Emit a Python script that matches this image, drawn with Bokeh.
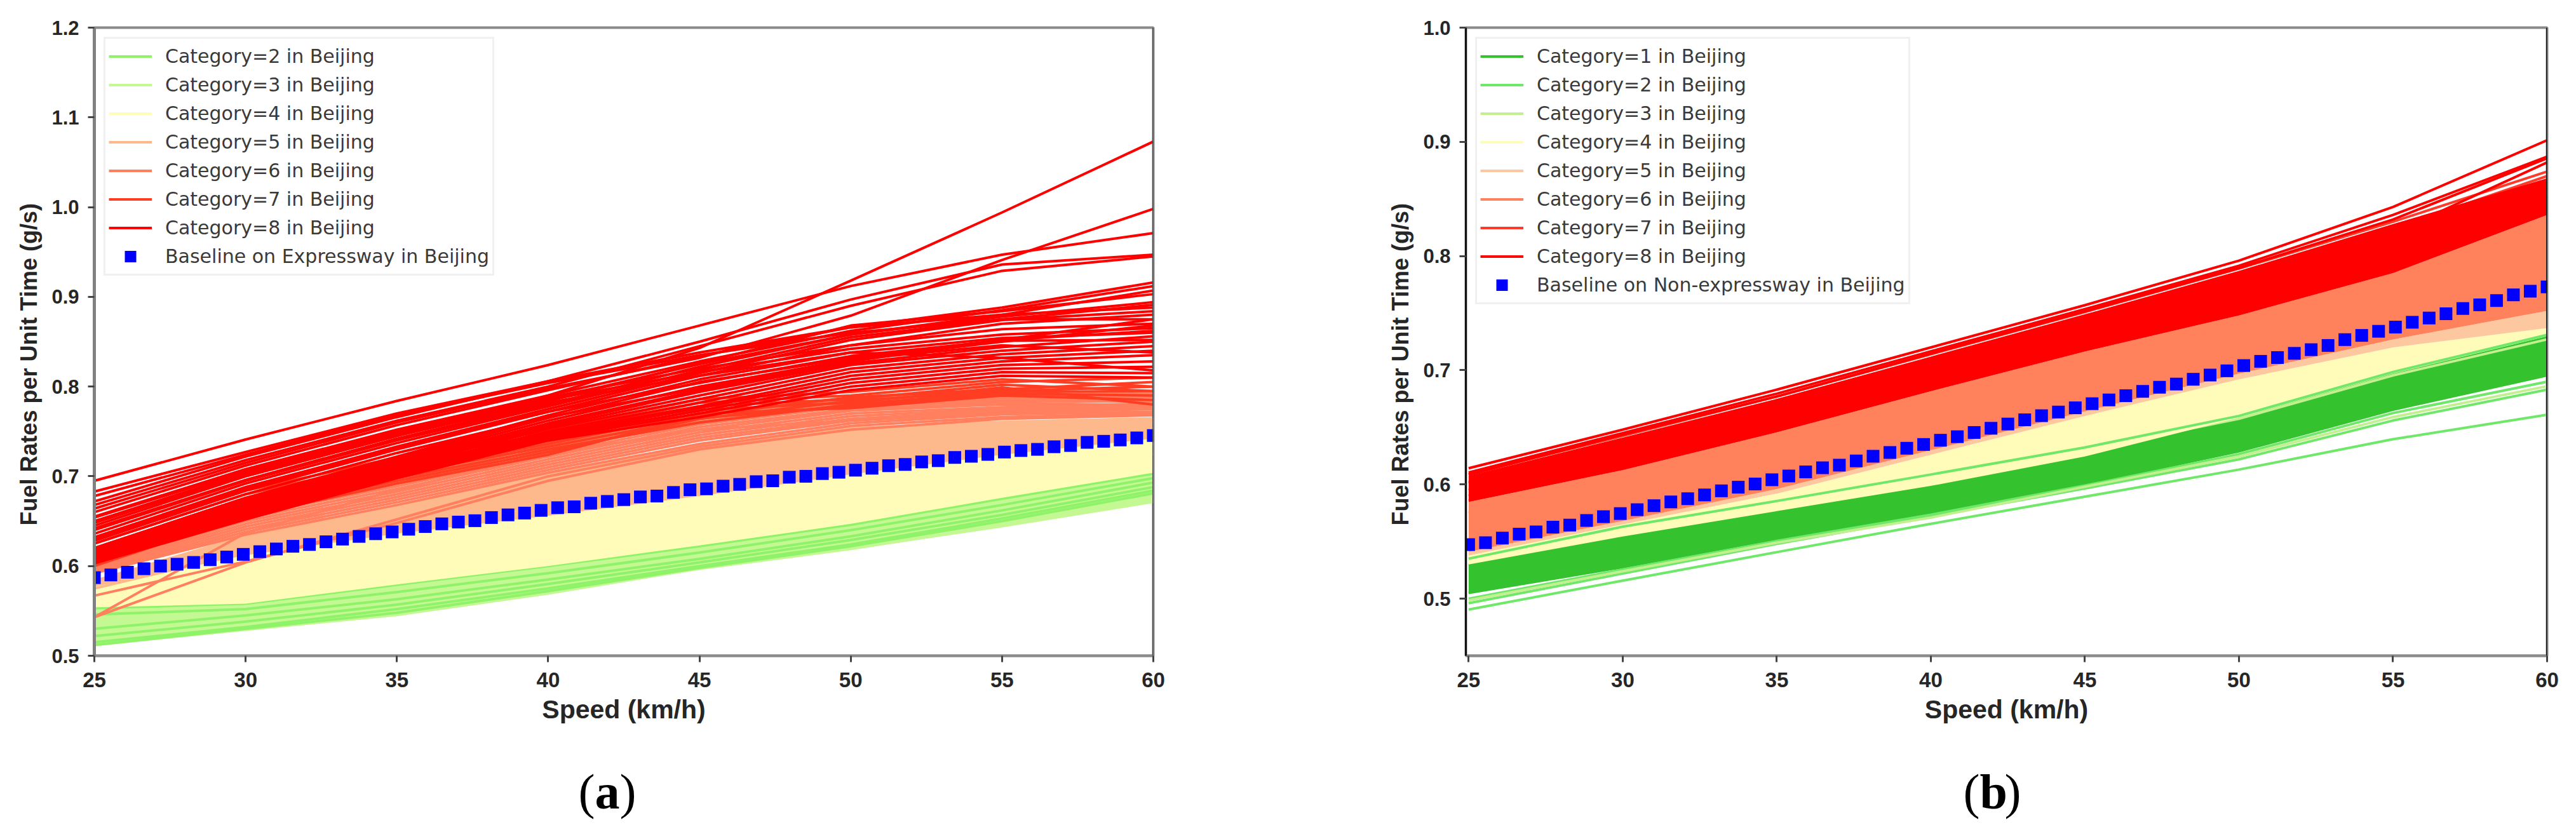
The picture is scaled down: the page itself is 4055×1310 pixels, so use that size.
from bokeh.plotting import figure
from bokeh.layouts import row, column
from bokeh.models import Legend, LegendItem, Span, Label, FixedTicker, NumeralTickFormatter, Title
from bokeh.embed import file_html
from bokeh.resources import INLINE
import numpy as np

speed_knots = [25, 30, 35, 40, 45, 50, 55, 60]
x_ticks = [25, 30, 35, 40, 45, 50, 55, 60]
y_ticks_a = [0.5, 0.6, 0.7, 0.8, 0.9, 1.0, 1.1, 1.2]
y_ticks_b = [0.5, 0.6, 0.7, 0.8, 0.9, 1.0]

baseline_a = [.587,.590,.593,.597,.600,.602,.604,.607,.610,.613,.616,.619,.622,.624,.627,.630,.633,.636,.638,.641,.644,.647,.649,
              .6505,.654,.657,.659,.662,.665,.666,.670,.672,.674,.677,.678,.682,.685,.686,.689,.691,.694,.695,.699,.700,.703,.7045,
              .7068,.709,.7118,.7132,.716,.7174,.721,.7223,.7244,.727,.7287,.730,.7329,.7343,.7378,.739,.7405,.7427,.7455]
baseline_b = [.5473,.549,.553,.5565,.5585,.5626,.5644,.5685,.5718,.5745,.5779,.5814,.5847,.5875,.5908,.5944,.5976,.6004,.6041,.6074,.611,.6146,
              .6169,.6206,.6247,.628,.6317,.635,.6387,.6418,.6455,.6492,.6529,.6566,.6602,.6634,.6671,.6707,.674,.6777,.6815,.6851,.6879,.6921,
              .6958,.6995,.7041,.7078,.7111,.7148,.718,.7217,.7268,.7305,.7341,.7378,.742,.7457,.7494,.754,.7572,.761,.766,.7692,.7729]

# ---------- panel (a): band edges and individual curves at the speed knots
a_green_low  = [.5105,.528,.544,.568,.596,.618,.643,.670]
a_green_high = [.554,.558,.5795,.600,.623,.647,.676,.704]
a_yellow_high = [.577,.612,.636,.656,.678,.702,.724,.742]
a_orange_high = [.585,.635,.668,.704,.735,.755,.762,.766]

a_cat2 = [[.553,.558,.579,.600,.622,.646,.675,.703],
          [.546,.552,.571,.592,.615,.640,.668,.698],
          [.530,.545,.563,.585,.608,.633,.662,.693],
          [.522,.538,.557,.580,.604,.629,.657,.688],
          [.515,.532,.552,.575,.600,.624,.653,.684],
          [.512,.530,.548,.572,.598,.622,.650,.681]]
a_cat3 = [[.540,.549,.566,.588,.612,.636,.664,.690],
          [.526,.541,.560,.582,.606,.630,.658,.682],
          [.513,.529,.546,.570,.597,.619,.645,.672]]
a_cat4 = [[.560,.590,.612,.630,.650,.676,.700,.725],
          [.570,.605,.628,.648,.668,.694,.716,.736]]
a_cat5 = [[.580,.625,.660,.698,.728,.752,.760,.764],
          [.575,.615,.650,.688,.720,.745,.756,.760]]
a_cat6 = [[.543,.604,.652,.700,.733,.756,.766,.770],
          [.543,.637,.685,.725,.752,.762,.771,.775],
          [.567,.605,.648,.695,.730,.752,.764,.768],
          [.592,.635,.668,.704,.736,.759,.769,.772],
          [.594,.638,.671,.707,.740,.762,.771,.775],
          [.596,.641,.674,.710,.743,.764,.773,.777],
          [.598,.644,.677,.713,.746,.767,.775,.778],
          [.600,.647,.680,.716,.749,.770,.777,.781],
          [.602,.650,.683,.719,.752,.773,.780,.776],
          [.604,.653,.686,.722,.755,.775,.782,.779],
          [.607,.656,.689,.725,.758,.778,.784,.783],
          [.610,.659,.692,.728,.761,.781,.786,.785],
          [.612,.662,.695,.731,.764,.783,.788,.788],
          [.614,.665,.698,.734,.767,.785,.790,.790],
          [.616,.668,.701,.737,.770,.787,.792,.792]]
a_cat7 = [[.600,.656,.692,.724,.768,.788,.797,.805],
          [.603,.659,.695,.727,.764,.784,.795,.800],
          [.606,.662,.698,.730,.760,.780,.794,.795],
          [.610,.665,.702,.733,.765,.778,.792,.790],
          [.613,.668,.705,.736,.770,.776,.790,.785],
          [.617,.672,.709,.739,.774,.782,.799,.780],
          [.620,.676,.713,.743,.778,.786,.802,.795],
          [.625,.680,.717,.747,.782,.790,.805,.810],
          [.630,.684,.721,.751,.786,.794,.808,.800]]
a_cat8 = [[.650,.700,.745,.790,.843,.918,.994,1.073],
          [.664,.715,.760,.798,.832,.879,.941,.998],
          [.695,.741,.784,.824,.868,.912,.947,.971],
          [.672,.722,.766,.806,.850,.897,.936,.947],
          [.668,.718,.762,.800,.845,.890,.929,.945],
          [.660,.712,.757,.796,.834,.866,.888,.916],
          [.655,.708,.752,.790,.828,.862,.885,.912],
          [.650,.704,.748,.786,.825,.858,.880,.907],
          [.645,.700,.745,.784,.826,.868,.884,.903],
          [.640,.695,.740,.780,.822,.858,.878,.894],
          [.636,.692,.737,.778,.818,.855,.875,.891],
          [.632,.688,.733,.775,.815,.852,.874,.884],
          [.628,.684,.730,.772,.812,.846,.870,.880],
          [.620,.676,.722,.768,.808,.838,.832,.818],
          [.618,.674,.720,.765,.805,.832,.852,.875],
          [.616,.672,.718,.762,.800,.830,.850,.868],
          [.614,.670,.716,.759,.796,.828,.852,.862],
          [.612,.668,.714,.757,.794,.826,.844,.856],
          [.610,.666,.712,.755,.790,.824,.840,.850],
          [.609,.664,.710,.753,.786,.820,.836,.845],
          [.608,.662,.708,.750,.782,.816,.832,.840],
          [.607,.660,.706,.748,.778,.812,.828,.835],
          [.606,.658,.704,.746,.776,.808,.824,.828],
          [.605,.656,.702,.744,.773,.804,.820,.822],
          [.604,.654,.700,.742,.770,.800,.816,.815],
          [.603,.652,.698,.740,.766,.796,.812,.810],
          [.683,.727,.770,.806,.838,.866,.880,.888],
          [.678,.724,.768,.804,.835,.860,.875,.875],
          [.654,.706,.750,.788,.820,.846,.864,.870],
          [.648,.702,.746,.785,.816,.842,.858,.865],
          [.642,.696,.742,.782,.812,.838,.854,.860],
          [.630,.686,.732,.772,.804,.834,.851,.852],
          [.625,.680,.726,.766,.798,.830,.846,.838]]

# ---------- panel (b)
b_green_low  = [.5047,.5274,.5523,.5744,.6000,.6285,.6650,.6950]
b_green_high = [.5300,.5544,.5766,.5987,.6245,.6585,.6970,.7297]
b_orange_low = [.538,.565,.592,.626,.660,.692,.720,.737]
b_salmon_low = [.541,.568,.596,.630,.664,.697,.727,.752]
b_red_low    = [.5847,.6125,.6456,.6816,.7164,.748,.785,.8359]
b_red_high   = [.6077,.6410,.6750,.7120,.7490,.7870,.8280,.8680]

b_cat1 = [[.5050,.5276,.5525,.5746,.6003,.6290,.6655,.6955],
          [.5295,.5540,.5762,.5984,.6242,.6580,.6965,.7290]]
b_cat2 = [[.4905,.5158,.5407,.5655,.5893,.6130,.6396,.6610],
          [.4960,.5220,.5480,.5720,.5965,.6220,.6560,.6830],
          [.5000,.5255,.5505,.5735,.5990,.6265,.6625,.6900],
          [.5350,.5630,.5855,.6087,.6324,.6600,.6985,.7310]]
b_cat3 = [[.4985,.5240,.5490,.5710,.5980,.6245,.6590,.6860],
          [.5330,.5600,.5820,.6060,.6300,.6575,.6955,.7270]]
b_cat4 = [[.5350,.5640,.5880,.6150,.6450,.6750,.7080,.7320],
          [.5370,.5650,.5895,.6240,.6580,.6900,.7180,.7360]]
b_cat5 = [[.5390,.5665,.5935,.6280,.6620,.6945,.7235,.7445]]
b_cat6 = [[.5500,.5780,.6050,.6400,.6750,.7050,.7350,.7650],
          [.5750,.6050,.6400,.6750,.7100,.7400,.7750,.8250]]
b_cat7 = [[.5860,.6145,.6476,.6836,.7184,.7500,.7880,.8400],
          [.6090,.6425,.6770,.7140,.7510,.7890,.8300,.8740],
          [.6020,.6350,.6680,.7080,.7450,.7800,.8240,.8700]]
b_cat8 = [[.6142,.6480,.6830,.7200,.7570,.7960,.8430,.9014],
          [.6105,.6450,.6795,.7165,.7535,.7915,.8360,.8870],
          [.6085,.6435,.6770,.7145,.7515,.7895,.8320,.8856],
          [.6010,.6340,.6680,.7080,.7440,.7760,.8200,.8820],
          [.5900,.6200,.6530,.6900,.7250,.7570,.7960,.8520],
          [.5950,.6260,.6590,.6960,.7330,.7640,.8050,.8600]]

# ---------- texts
labels_a = ["Category=2 in Beijing", "Category=3 in Beijing", "Category=4 in Beijing", "Category=5 in Beijing",
            "Category=6 in Beijing", "Category=7 in Beijing", "Category=8 in Beijing", "Baseline on Expressway in Beijing"]
labels_b = ["Category=1 in Beijing", "Category=2 in Beijing", "Category=3 in Beijing", "Category=4 in Beijing",
            "Category=5 in Beijing", "Category=6 in Beijing", "Category=7 in Beijing", "Category=8 in Beijing",
            "Baseline on Non-expressway in Beijing"]
x_title = "Speed (km/h)"
y_title = "Fuel Rates per Unit Time (g/s)"

colors_a = {2: "#8ff36a", 3: "#c4f893", 4: "#fffbb8", 5: "#fdb88c", 6: "#ff7f5e", 7: "#ff3d22", 8: "#ff0000"}
colors_b = {1: "#35c22f", 2: "#6fe86a", 3: "#c3f08f", 4: "#fffbb8", 5: "#fdc8a0", 6: "#ff825d", 7: "#ff3a2a", 8: "#ff0000"}
TEXT = "#262626"
LEG = "#3a3a3a"
BLUE = "#0000ff"


def make(width, left, right, top, bottom, yr, xr, yticks, left_color, left_width):
    p = figure(width=width, height=top + 995 + bottom, x_range=xr, y_range=yr, output_backend="svg",
               toolbar_location=None, min_border_left=left, min_border_right=right,
               min_border_top=top, min_border_bottom=bottom, background_fill_color="white",
               border_fill_color="white")
    p.grid.visible = False
    p.xaxis.ticker = FixedTicker(ticks=x_ticks)
    p.yaxis.ticker = FixedTicker(ticks=yticks)
    p.xaxis.formatter = NumeralTickFormatter(format="0")
    p.yaxis.formatter = NumeralTickFormatter(format="0.0")
    for ax in (p.xaxis[0], p.yaxis[0]):
        ax.major_tick_in = 0
        ax.major_tick_out = 10
        ax.minor_tick_out = 0
        ax.minor_tick_in = 0
        ax.major_tick_line_width = 3
        ax.major_tick_line_color = "#444444"
        ax.major_label_text_font = "Liberation Sans"
        ax.major_label_text_font_style = "bold"
        ax.major_label_text_color = TEXT
    p.xaxis.axis_line_color = "#8a8a8a"
    p.xaxis.axis_line_width = 4
    p.yaxis.axis_line_color = left_color
    p.yaxis.axis_line_width = left_width
    p.xaxis.major_label_text_font_size = "33px"
    p.yaxis.major_label_text_font_size = "31px"
    p.xaxis.axis_label_text_font = "Liberation Sans"
    p.xaxis.axis_label_text_font_style = "bold"
    p.xaxis.axis_label_text_color = TEXT
    p.xaxis.axis_label_text_font_size = "41px"
    p.xaxis.major_label_standoff = 16
    p.yaxis.major_label_standoff = 14
    p.xaxis.axis_label_standoff = 9
    p.xaxis.axis_label = x_title
    p.outline_line_color = "#8a8a8a"
    p.outline_line_width = 4
    p.add_layout(Title(text=y_title, align="left", offset=205, standoff=26,
                       text_font="Liberation Sans", text_font_style="bold", text_font_size="36px",
                       text_color=TEXT), "left")
    return p


def band(p, low, high, color):
    p.varea(x=speed_knots, y1=low, y2=high, fill_color=color, fill_alpha=1)


def curves(p, rows, color, width=4, alpha=1.0):
    out = None
    for r in rows:
        g = p.line(speed_knots, r, line_color=color, line_width=width, line_alpha=alpha)
        out = out or g
    return out


def legend(p, names, rends):
    items = [LegendItem(label=n, renderers=[r]) for n, r in zip(names, rends)]
    lg = Legend(items=items, location="top_left", margin=15, padding=5, spacing=0,
                label_text_font="DejaVu Sans", label_text_font_size="30px",
                label_text_color=LEG, label_height=45, glyph_height=45, glyph_width=68,
                label_standoff=21, border_line_color="#e2e2e2", border_line_width=3,
                background_fill_alpha=0.9, label_text_line_height=1.0)
    p.add_layout(lg)


# ---- panel a
pa = make(2150, 148, 335, 43, 112, (0.5, 1.2), (25, 60), y_ticks_a, "#808080", 5)
band(pa, a_green_low, a_green_high, colors_a[3])
r3 = curves(pa, a_cat3, colors_a[3], 4)
r2 = curves(pa, a_cat2, colors_a[2], 4)
band(pa, a_green_high, a_yellow_high, colors_a[4])
r4 = curves(pa, a_cat4, colors_a[4], 4)
band(pa, a_yellow_high, a_orange_high, colors_a[5])
r5 = curves(pa, a_cat5, colors_a[5], 4)
r6 = curves(pa, a_cat6, colors_a[6], 4)
r7 = curves(pa, a_cat7, colors_a[7], 4)
r8 = curves(pa, a_cat8, colors_a[8], 4)
sa = pa.scatter(np.linspace(25, 60, len(baseline_a)), baseline_a, marker="square", size=20,
                fill_color=BLUE, line_color=BLUE, line_width=0)
legend(pa, labels_a, [r2, r3, r4, r5, r6, r7, r8, sa])
pa.add_layout(Span(location=60, dimension="height", line_color="#4a4a4a", line_width=3))

# ---- panel b
pb = make(1897, 157, 38, 37, 118, (0.45, 1.0), (24.91, 60), y_ticks_b, "#111111", 3)
band(pb, b_green_low, b_green_high, colors_b[1])
r1b = curves(pb, b_cat1, colors_b[1], 4)
r2b = curves(pb, b_cat2, colors_b[2], 4)
r3b = curves(pb, b_cat3, colors_b[3], 4)
band(pb, b_green_high, b_orange_low, colors_b[4])
r4b = curves(pb, b_cat4, colors_b[4], 4)
pb.line(speed_knots, b_cat2[3], line_color=colors_b[2], line_width=4)
band(pb, b_orange_low, b_salmon_low, colors_b[5])
r5b = curves(pb, b_cat5, colors_b[5], 4)
band(pb, b_salmon_low, b_red_low, colors_b[6])
r6b = curves(pb, b_cat6, colors_b[6], 4)
r7b = curves(pb, b_cat7, colors_b[7], 4)
band(pb, b_red_low, b_red_high, colors_b[8])
r8b = curves(pb, b_cat8, colors_b[8], 4)
sb = pb.scatter(np.linspace(25, 60, len(baseline_b)), baseline_b, marker="square", size=20,
                fill_color=BLUE, line_color=BLUE, line_width=0)
legend(pb, labels_b, [r1b, r2b, r3b, r4b, r5b, r6b, r7b, r8b, sb])
pb.add_layout(Span(location=60, dimension="height", line_color="#111111", line_width=3))

# ---- captions strip
pc = figure(width=4047, height=150, x_range=(0, 4047), y_range=(0, 150), output_backend="svg",
            toolbar_location=None, min_border=0, outline_line_color=None)
pc.axis.visible = False
pc.grid.visible = False


def caption(left_x, letter):
    base = dict(y=54, text_font="Liberation Serif", text_font_size="78px", text_color="black",
                text_baseline="alphabetic")
    pc.add_layout(Label(x=left_x, text="(", **base))
    pc.add_layout(Label(x=left_x + 26, text=letter, text_font_style="bold", **base))
    pc.add_layout(Label(x=left_x + 65, text=")", **base))


caption(910, "a")
caption(3090, "b")

open("out.html", "w").write(file_html(column(row(pa, pb, spacing=0), pc, spacing=0), INLINE))
